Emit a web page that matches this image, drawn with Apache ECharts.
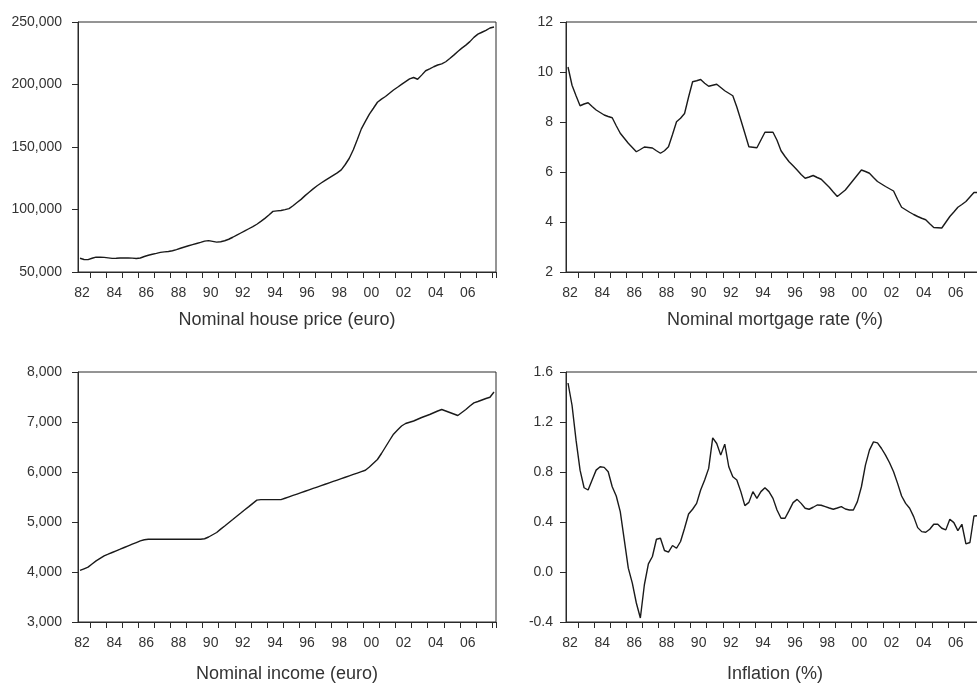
<!DOCTYPE html>
<html>
<head>
<meta charset="utf-8">
<script src="https://cdn.jsdelivr.net/npm/echarts@6/dist/echarts.min.js"></script>
<style>
html,body{margin:0;padding:0;background:#fff;}
#c{width:977px;height:684px;}
</style>
</head>
<body>
<div id="c"></div>
<script>
// Quarterly observations 1982Q2 .. 2008Q1
const quarters = [];
for (let y = 1982; y <= 2008; y++) {
  for (let q = 1; q <= 4; q++) {
    if ((y === 1982 && q < 2) || (y === 2008 && q > 1)) continue;
    quarters.push(y + 'Q' + q);
  }
}

const titles = ['Nominal house price (euro)', 'Nominal mortgage rate (%)', 'Nominal income (euro)', 'Inflation (%)'];

const housePrice = [
  61000, 60000, 59900,
  61000, 61900, 61850, 61700,
  61300, 60900, 61000, 61150,
  61200, 61200, 61100, 60800,
  61200, 62400, 63400, 64200,
  64900, 65700, 66100, 66400,
  67000, 67900, 69000, 70000,
  71000, 71900, 72800, 73700,
  74700, 75100, 74500, 73900,
  74200, 75000, 76200, 77800,
  79500, 81200, 82900, 84600,
  86300, 88200, 90500, 92900,
  95600, 98500, 98900, 99200,
  99900, 100700, 103000, 105600,
  108100, 111100, 113800, 116500,
  119000, 121200, 123300, 125300,
  127300, 129300, 131700, 136000,
  141000, 147800, 156000, 164500,
  170500, 176300, 181000, 185800,
  188300, 190400, 193000, 195600,
  197800, 200100, 202300, 204500,
  205600, 204200, 207500, 211000,
  212500, 214200, 215600, 216500,
  218200, 220800, 223500, 226400,
  229100, 231500, 234300, 237700,
  240300, 241800, 243300, 245200,
  246000
];

const mortgageRate = [
  10.2, 9.47, 9.05,
  8.65, 8.72, 8.77, 8.62,
  8.48, 8.38, 8.28, 8.22,
  8.17, 7.85, 7.55, 7.35,
  7.15, 6.98, 6.81, 6.9,
  7.0, 6.98, 6.96, 6.85,
  6.75, 6.85, 7.01, 7.5,
  8.01, 8.15, 8.34, 9.0,
  9.61, 9.65, 9.70, 9.55,
  9.43, 9.47, 9.51, 9.38,
  9.25, 9.15, 9.05, 8.6,
  8.08, 7.55, 7.01, 6.99,
  6.97, 7.28, 7.59, 7.59,
  7.59, 7.27, 6.85, 6.62,
  6.41, 6.25, 6.08, 5.9,
  5.75, 5.8, 5.86, 5.78,
  5.71, 5.55, 5.39, 5.2,
  5.02, 5.15, 5.28, 5.48,
  5.68, 5.88, 6.08, 6.02,
  5.95, 5.78, 5.62, 5.52,
  5.42, 5.33, 5.24, 4.9,
  4.59, 4.49, 4.39, 4.3,
  4.22, 4.15, 4.09, 3.93,
  3.78, 3.77, 3.76, 3.99,
  4.22, 4.4, 4.59, 4.7,
  4.82, 5.0, 5.18, 5.18,
  5.2
];

const income = [
  4031, 4064, 4097,
  4160, 4223, 4273, 4323,
  4356, 4390, 4423, 4456,
  4490, 4523, 4556, 4589,
  4622, 4645, 4656, 4656,
  4656, 4656, 4656, 4656,
  4656, 4656, 4656, 4656,
  4656, 4656, 4656, 4656,
  4665, 4700, 4745, 4790,
  4857, 4921, 4986, 5050,
  5115, 5179, 5244, 5308,
  5373, 5437, 5447, 5447,
  5447, 5447, 5447, 5447,
  5475, 5503, 5531, 5559,
  5587, 5615, 5643, 5671,
  5699, 5727, 5755, 5783,
  5811, 5839, 5867, 5895,
  5923, 5951, 5979, 6007,
  6035, 6100, 6175, 6250,
  6370, 6500, 6630, 6757,
  6840, 6920, 6970, 6995,
  7020, 7055, 7090, 7120,
  7150, 7185, 7220, 7250,
  7220, 7190, 7160, 7130,
  7190, 7250, 7320, 7382,
  7410, 7440, 7470, 7495,
  7600
];

const inflation = [
  1.512, 1.334, 1.055,
  0.815, 0.674, 0.656, 0.736,
  0.815, 0.842, 0.837, 0.802,
  0.682, 0.608, 0.483, 0.257,
  0.031, -0.089, -0.248, -0.368,
  -0.102, 0.065, 0.124, 0.262,
  0.270, 0.172, 0.159, 0.212,
  0.190, 0.244, 0.350, 0.464,
  0.502, 0.549, 0.656, 0.736,
  0.829, 1.073, 1.028, 0.935,
  1.023, 0.842, 0.762, 0.736,
  0.643, 0.531, 0.557, 0.643,
  0.589, 0.643, 0.674, 0.643,
  0.589, 0.496, 0.430, 0.430,
  0.491, 0.555, 0.581, 0.549,
  0.510, 0.502, 0.518, 0.536,
  0.534, 0.523, 0.512, 0.502,
  0.512, 0.523, 0.504, 0.496,
  0.496, 0.563, 0.682, 0.855,
  0.975, 1.041, 1.033, 0.988,
  0.935, 0.874, 0.802, 0.709,
  0.608, 0.549, 0.510, 0.443,
  0.355, 0.323, 0.318, 0.342,
  0.382, 0.382, 0.350, 0.337,
  0.422, 0.395, 0.331, 0.382,
  0.225, 0.236, 0.448, 0.451,
  0.45
];

const yMin = [50000, 2, 3000, -0.4];
const yMax = [250000, 12, 8000, 1.6];
const yStep = [50000, 2, 1000, 0.4];

const seriesData = [housePrice, mortgageRate, income, inflation];

const FONT = "'Liberation Sans', Arial, sans-serif";
const TXT = '#333';
const AX = '#2a2a2a';

const gridPos = [
  {left: 78, top: 22, width: 418, height: 250},
  {left: 566, top: 22, width: 418, height: 250},
  {left: 78, top: 372, width: 418, height: 250},
  {left: 566, top: 372, width: 418, height: 250}
];
const titlePos = [
  {x: 287, y: 311}, {x: 775, y: 311}, {x: 287, y: 665}, {x: 775, y: 665}
];
const yMargin = [16, 13, 16, 13];

const fmtComma = v => Math.round(v).toString().replace(/\B(?=(\d{3})+(?!\d))/g, ',');
const yFormat = [fmtComma, v => String(Math.round(v)), fmtComma, v => v.toFixed(1)];

const chart = echarts.init(document.getElementById('c'), null, {renderer: 'canvas'});

const option = {
  animation: false,
  backgroundColor: '#fff',
  title: titles.map((t, i) => ({
    text: t,
    left: titlePos[i].x,
    top: titlePos[i].y,
    textAlign: 'center',
    padding: 0,
    textStyle: {fontFamily: FONT, fontSize: 18, fontWeight: 'normal', color: TXT}
  })),
  grid: gridPos.map(g => Object.assign({
    show: true, borderColor: AX, borderWidth: 1, backgroundColor: 'transparent',
    containLabel: false, outerBoundsMode: 'none'
  }, g)),
  xAxis: gridPos.map((g, i) => ({
    type: 'category',
    gridIndex: i,
    data: quarters,
    boundaryGap: true,
    axisLine: {show: true, onZero: false, lineStyle: {color: AX, width: 1}},
    axisTick: {
      show: true, length: 6, inside: false,
      lineStyle: {color: AX, width: 1},
      interval: (idx, val) => val.endsWith('Q1')
    },
    axisLabel: {
      show: true,
      interval: (idx, val) => val.endsWith('Q2') && (parseInt(val.slice(0, 4)) % 2 === 0),
      formatter: val => val.slice(2, 4),
      margin: 14,
      padding: [0, 0, 0, 4],
      fontFamily: FONT, fontSize: 14, color: TXT
    },
    splitLine: {show: false}
  })),
  yAxis: gridPos.map((g, i) => ({
    type: 'value',
    gridIndex: i,
    min: yMin[i], max: yMax[i], interval: yStep[i],
    axisLine: {show: true, onZero: false, lineStyle: {color: AX, width: 1}},
    axisTick: {show: true, length: 6, inside: false, lineStyle: {color: AX, width: 1}},
    axisLabel: {
      margin: yMargin[i],
      formatter: yFormat[i],
      fontFamily: FONT, fontSize: 14, color: TXT
    },
    splitLine: {show: false}
  })),
  series: seriesData.map((d, i) => ({
    type: 'line',
    xAxisIndex: i, yAxisIndex: i,
    data: d,
    showSymbol: false,
    symbol: 'none',
    smooth: false,
    lineStyle: {color: '#1a1a1a', width: 1.4},
    clip: true
  }))
};

chart.setOption(option);
</script>
</body>
</html>
